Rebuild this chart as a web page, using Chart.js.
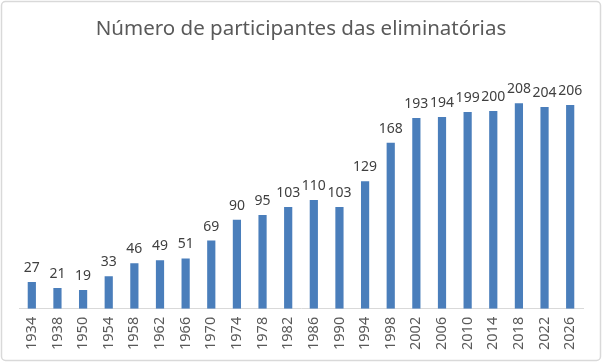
<!DOCTYPE html>
<html>
<head>
<meta charset="utf-8">
<script src="https://cdn.jsdelivr.net/npm/chart.js@4/dist/chart.umd.min.js"></script>
<style>
html,body{margin:0;padding:0;background:#fff;}
#wrap{width:602px;height:362px;position:relative;}
</style>
</head>
<body>
<div id="wrap"><canvas id="c" width="602" height="362"></canvas></div>
<script>
const categories = ["1934","1938","1950","1954","1958","1962","1966","1970","1974","1978","1982","1986","1990","1994","1998","2002","2006","2010","2014","2018","2022","2026"];
const participants = [27,21,19,33,46,49,51,69,90,95,103,110,103,129,168,193,194,199,200,208,204,206];
const titleText = "Número de participantes das eliminatórias";
const yMin = 0, yMax = 250;

const FONT = "'Noto Sans', sans-serif";

const frame = {
  id: 'frame',
  beforeDraw(chart) {
    const ctx = chart.ctx;
    ctx.save();
    ctx.fillStyle = '#fff';
    ctx.fillRect(0, 0, chart.width, chart.height);
    ctx.strokeStyle = '#d9d9d9';
    ctx.lineWidth = 1.5;
    const r = 4, x = 1.5, y = 1.5, w = chart.width - 3, h = chart.height - 3;
    ctx.beginPath();
    ctx.moveTo(x + r, y);
    ctx.arcTo(x + w, y, x + w, y + h, r);
    ctx.arcTo(x + w, y + h, x, y + h, r);
    ctx.arcTo(x, y + h, x, y, r);
    ctx.arcTo(x, y, x + w, y, r);
    ctx.closePath();
    ctx.stroke();
    ctx.restore();
  }
};

const labels = {
  id: 'valueLabels',
  afterDatasetsDraw(chart) {
    const ctx = chart.ctx;
    const meta = chart.getDatasetMeta(0);
    ctx.save();
    ctx.font = "14px " + FONT;
    ctx.fillStyle = '#404040';
    ctx.textAlign = 'center';
    ctx.textBaseline = 'alphabetic';
    meta.data.forEach((bar, i) => {
      ctx.fillText(String(chart.data.datasets[0].data[i]), bar.x, bar.y - 10);
    });
    ctx.restore();
  }
};

new Chart(document.getElementById('c'), {
  type: 'bar',
  data: {
    labels: categories,
    datasets: [{
      data: participants,
      backgroundColor: '#4a7ebb',
      borderWidth: 0,
      categoryPercentage: 1,
      barPercentage: 0.32
    }]
  },
  options: {
    responsive: false,
    animation: false,
    layout: { padding: { left: 19, right: 19, top: 0, bottom: 4 } },
    plugins: {
      legend: { display: false },
      tooltip: { enabled: false },
      title: {
        display: true,
        text: titleText,
        color: '#595959',
        font: { family: FONT, size: 20.5, weight: 'normal' },
        padding: { top: 17, bottom: 20 }
      }
    },
    scales: {
      y: { display: false, min: yMin, max: yMax },
      x: {
        grid: { display: false, drawTicks: false },
        border: { display: true, color: '#d9d9d9', width: 1 },
        ticks: {
          color: '#595959',
          font: { family: FONT, size: 14.5 },
          minRotation: 90,
          maxRotation: 90,
          padding: 8,
          autoSkip: false
        }
      }
    }
  },
  plugins: [frame, labels]
});
</script>
</body>
</html>
